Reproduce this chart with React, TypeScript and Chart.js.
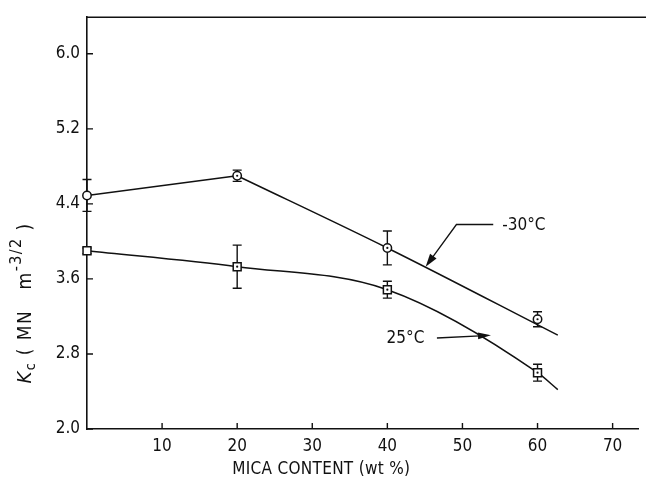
import React, { useEffect, useRef } from 'react';
import { Chart, registerables } from 'chart.js';

Chart.register(...registerables);

// ---- data ----
const mica = [0, 20, 40, 60];
const kcMinus30 = [4.49, 4.7, 3.93, 3.17];
const errMinus30 = [0.17, 0.06, 0.18, 0.08];
const kc25 = [3.9, 3.73, 3.485, 2.6];
const err25 = [0.03, 0.23, 0.09, 0.09];
// hand-drawn fitted curves
const curveMinus30X = [0, 20, 40, 62.7];
const curveMinus30Y = [4.49, 4.7, 3.93, 3.0];
const curve25X = [0, 20, 40, 60, 62.7];
const curve25Y = [3.9, 3.73, 3.485, 2.6, 2.42];
const xTicks = [10, 20, 30, 40, 50, 60, 70];
const yTicks = [2.0, 2.8, 3.6, 4.4, 5.2, 6.0];
const labelMinus30 = '-30°C';
const label25 = '25°C';
const xTitle = 'MICA CONTENT (wt %)';

const FONT = "'Liberation Sans Narrow', 'DejaVu Sans Condensed', 'DejaVu Sans', sans-serif";
const INK = '#111';

const pts = (xs: number[], ys: number[]) => xs.map((x, i) => ({ x, y: ys[i] }));

function arrowHead(ctx: CanvasRenderingContext2D, fx: number, fy: number, tx: number, ty: number, len = 11, half = 3.5) {
  const a = Math.atan2(ty - fy, tx - fx);
  ctx.beginPath();
  ctx.moveTo(tx, ty);
  ctx.lineTo(tx - len * Math.cos(a) + half * Math.sin(a), ty - len * Math.sin(a) - half * Math.cos(a));
  ctx.lineTo(tx - len * Math.cos(a) - half * Math.sin(a), ty - len * Math.sin(a) + half * Math.cos(a));
  ctx.closePath();
  ctx.fill();
}

const decorPlugin = {
  id: 'decor',
  beforeDatasetsDraw(chart: any) {
    const { ctx } = chart;
    const xs = chart.scales.x;
    const ys = chart.scales.y;
    ctx.save();
    ctx.strokeStyle = INK;
    ctx.lineWidth = 1.4;
    const bars = (vals: number[], errs: number[]) => {
      mica.forEach((m, i) => {
        const px = xs.getPixelForValue(m);
        const top = ys.getPixelForValue(vals[i] + errs[i]);
        const bot = ys.getPixelForValue(vals[i] - errs[i]);
        ctx.beginPath();
        ctx.moveTo(px, top);
        ctx.lineTo(px, bot);
        ctx.moveTo(px - 4.5, top);
        ctx.lineTo(px + 4.5, top);
        ctx.moveTo(px - 4.5, bot);
        ctx.lineTo(px + 4.5, bot);
        ctx.stroke();
      });
    };
    bars(kcMinus30, errMinus30);
    bars(kc25, err25);
    ctx.restore();
  },
  afterDraw(chart: any) {
    const { ctx, chartArea, width } = chart;
    const xs = chart.scales.x;
    const ys = chart.scales.y;
    ctx.save();
    ctx.strokeStyle = INK;
    ctx.fillStyle = INK;
    ctx.lineWidth = 1.6;
    // top frame line running to the edge
    ctx.beginPath();
    ctx.moveTo(chartArea.left, chartArea.top);
    ctx.lineTo(width, chartArea.top);
    ctx.stroke();
    // inward tick marks
    ctx.lineWidth = 1.4;
    ctx.beginPath();
    yTicks.forEach((v) => {
      const py = ys.getPixelForValue(v);
      ctx.moveTo(chartArea.left, py);
      ctx.lineTo(chartArea.left + 6, py);
    });
    xTicks.forEach((v) => {
      const px = xs.getPixelForValue(v);
      ctx.moveTo(px, chartArea.bottom);
      ctx.lineTo(px, chartArea.bottom - 6);
    });
    ctx.stroke();

    // centre dots in markers
    [kcMinus30, kc25].forEach((vals) =>
      mica.forEach((m, i) => {
        if (m === 0) return;
        ctx.beginPath();
        ctx.arc(xs.getPixelForValue(m), ys.getPixelForValue(vals[i]), 1.1, 0, Math.PI * 2);
        ctx.fill();
      })
    );

    // annotation -30°C
    ctx.lineWidth = 1.3;
    const tx1 = xs.getPixelForValue(55.3), ty1 = ys.getPixelForValue(4.18);
    const ex1 = xs.getPixelForValue(49.2);
    const hx1 = xs.getPixelForValue(45.1), hy1 = ys.getPixelForValue(3.73);
    ctx.beginPath();
    ctx.moveTo(tx1 - 9, ty1);
    ctx.lineTo(ex1, ty1);
    ctx.lineTo(hx1 + 3, hy1 - 4);
    ctx.stroke();
    arrowHead(ctx, ex1, ty1, hx1, hy1, 13, 4);
    ctx.font = `17px ${FONT}`;
    ctx.textBaseline = 'middle';
    ctx.textAlign = 'left';
    ctx.fillText(labelMinus30, tx1, ty1 + 1);

    // annotation 25°C
    const tx2 = xs.getPixelForValue(39.9), ty2 = ys.getPixelForValue(2.97);
    const ax2 = xs.getPixelForValue(46.6);
    const hx2 = xs.getPixelForValue(53.8), hy2 = ys.getPixelForValue(3.0);
    ctx.beginPath();
    ctx.moveTo(ax2, ty2);
    ctx.lineTo(hx2 - 6, hy2 + 0.5);
    ctx.stroke();
    arrowHead(ctx, ax2, ty2, hx2, hy2, 13, 3.5);
    ctx.fillText(label25, tx2, ty2 + 1);

    // x title
    ctx.textAlign = 'center';
    (ctx as any).letterSpacing = '0.3px';
    ctx.fillText(xTitle, xs.getPixelForValue(31.2), 470);

    // y title (rotated): K_c ( MN  m^-3/2 )
    ctx.translate(26, 303);
    ctx.rotate(-Math.PI / 2);
    (ctx as any).letterSpacing = '1.4px';
    const parts: { t: string; f: string; dy: number }[] = [
      { t: 'K', f: `italic 20px ${FONT}`, dy: 0 },
      { t: 'c', f: `14px ${FONT}`, dy: 5 },
      { t: ' ( MN   m', f: `19px ${FONT}`, dy: 0 },
      { t: '-3/2', f: `16px ${FONT}`, dy: -9 },
      { t: ' )', f: `19px ${FONT}`, dy: 0 },
    ];
    let total = 0;
    parts.forEach((p) => {
      ctx.font = p.f;
      total += ctx.measureText(p.t).width;
    });
    let cx = -total / 2;
    ctx.textAlign = 'left';
    parts.forEach((p) => {
      ctx.font = p.f;
      ctx.fillText(p.t, cx, p.dy);
      cx += ctx.measureText(p.t).width;
    });
    ctx.restore();
  },
};

export default function App() {
  const ref = useRef<HTMLCanvasElement | null>(null);
  useEffect(() => {
    if (!ref.current) return;
    const peak = 1; // index where the -30°C curve changes direction (hand-drawn kink)
    const chart = new Chart(ref.current, {
      type: 'scatter',
      data: {
        datasets: [
          {
            data: pts(mica, kcMinus30),
            pointStyle: 'circle',
            pointRadius: 4.2,
            pointBackgroundColor: '#fff',
            pointBorderColor: INK,
            pointBorderWidth: 1.5,
            showLine: false,
            clip: false,
            order: 0,
          },
          {
            data: pts(mica, kc25),
            pointStyle: 'rect',
            pointRadius: 5.6,
            pointBackgroundColor: '#fff',
            pointBorderColor: INK,
            pointBorderWidth: 1.5,
            showLine: false,
            clip: false,
            order: 0,
          },
          {
            data: pts(curveMinus30X.slice(0, peak + 1), curveMinus30Y.slice(0, peak + 1)),
            showLine: true,
            pointRadius: 0,
            borderColor: INK,
            borderWidth: 1.5,
            order: 1,
          },
          {
            data: pts(curveMinus30X.slice(peak), curveMinus30Y.slice(peak)),
            showLine: true,
            pointRadius: 0,
            borderColor: INK,
            borderWidth: 1.5,
            cubicInterpolationMode: 'monotone',
            order: 1,
          },
          {
            data: pts(curve25X, curve25Y),
            showLine: true,
            pointRadius: 0,
            borderColor: INK,
            borderWidth: 1.5,
            cubicInterpolationMode: 'monotone',
            order: 1,
          },
        ],
      },
      options: {
        responsive: false,
        animation: false,
        events: [],
        layout: { padding: { top: 14, right: 5, left: 0, bottom: 0 } },
        plugins: { legend: { display: false }, tooltip: { enabled: false } },
        scales: {
          x: {
            type: 'linear',
            min: 0,
            max: 73.5,
            grid: { display: false, drawTicks: false },
            border: { display: true, color: INK, width: 1.6 },
            afterBuildTicks: (axis: any) => {
              axis.ticks = xTicks.map((v) => ({ value: v }));
            },
            afterFit: (axis: any) => {
              axis.height = 59;
            },
            ticks: {
              color: INK,
              padding: 7,
              maxRotation: 0,
              font: { family: FONT, size: 17 },
              callback: (v: any) => String(v),
            },
          },
          y: {
            type: 'linear',
            min: 2.0,
            max: 6.39,
            grid: { display: false, drawTicks: false },
            border: { display: true, color: INK, width: 1.6 },
            afterBuildTicks: (axis: any) => {
              axis.ticks = yTicks.map((v) => ({ value: v }));
            },
            afterFit: (axis: any) => {
              axis.width = 87;
            },
            ticks: {
              color: INK,
              padding: 7,
              font: { family: FONT, size: 17 },
              callback: (v: any) => Number(v).toFixed(1),
            },
          },
        },
      },
      plugins: [decorPlugin],
    } as any);
    return () => chart.destroy();
  }, []);
  return (
    <div style={{ position: 'fixed', left: 0, top: 0, width: 646, height: 488, background: '#fff' }}>
      <canvas ref={ref} width={646} height={488} style={{ display: 'block', width: 646, height: 488 }} />
    </div>
  );
}
